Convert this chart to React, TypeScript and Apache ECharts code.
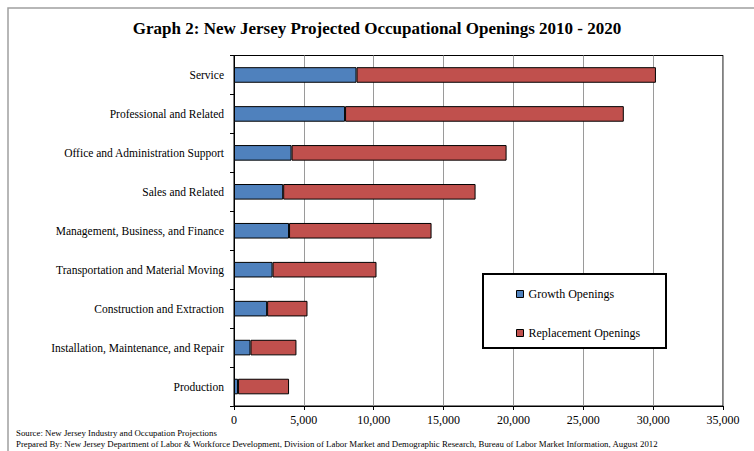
import React, { useEffect, useRef } from "react";
import * as echarts from "echarts";

const categories = [
  "Service",
  "Professional and Related",
  "Office and Administration Support",
  "Sales and Related",
  "Management, Business, and Finance",
  "Transportation and Material Moving",
  "Construction and Extraction",
  "Installation, Maintenance, and Repair",
  "Production",
];
const growthOpenings = [8770, 7950, 4120, 3520, 3940, 2760, 2370, 1180, 290];
const replacementOpenings = [21430, 19950, 15390, 13770, 10200, 7440, 2890, 3290, 3650];
const seriesNames = ["Growth Openings", "Replacement Openings"];
const titleText = "Graph 2: New Jersey Projected Occupational Openings 2010 - 2020";
const sourceText = "Source: New Jersey Industry and Occupation Projections";
const preparedText =
  "Prepared By: New Jersey Department of Labor & Workforce Development, Division of Labor Market and Demographic Research, Bureau of Labor Market Information, August 2012";

const FONT = "'Liberation Serif', 'Times New Roman', serif";

export default function App() {
  const ref = useRef<HTMLDivElement>(null);
  useEffect(() => {
    if (!ref.current) return;
    const chart = echarts.init(ref.current, null, { renderer: "svg" });
    chart.setOption({
      animation: false,
      backgroundColor: "#fff",
      textStyle: { fontFamily: FONT },
      title: {
        text: titleText,
        left: "center",
        top: 15,
        textStyle: { fontFamily: FONT, fontSize: 17, fontWeight: "bold", color: "#000" },
      },
      grid: {
        left: 234,
        top: 55.5,
        right: 31,
        bottom: 45,
        show: true,
        borderColor: "#000",
        borderWidth: 1,
        backgroundColor: "transparent",
      },
      legend: {
        orient: "vertical",
        left: 516,
        top: 288,
        padding: 0,
        z: 20,
        itemWidth: 7,
        itemHeight: 7,
        itemGap: 27,
        icon: "rect",
        data: seriesNames,
        itemStyle: { borderColor: "#000", borderWidth: 1 },
        textStyle: { fontFamily: FONT, fontSize: 12, color: "#000" },
      },
      xAxis: {
        type: "value",
        min: 0,
        max: 35000,
        interval: 5000,
        axisLine: { show: true, lineStyle: { color: "#000", width: 1 } },
        axisTick: { show: true, length: 4, lineStyle: { color: "#000" } },
        splitLine: { show: true, lineStyle: { color: "#9a9a9a", width: 1 } },
        axisLabel: {
          fontFamily: FONT,
          fontSize: 12,
          color: "#000",
          margin: 8,
          formatter: (v: number) => v.toLocaleString("en-US"),
        },
      },
      yAxis: {
        type: "category",
        data: categories,
        inverse: true,
        axisLine: { show: true, lineStyle: { color: "#000", width: 1 } },
        axisTick: { show: true, length: 4, lineStyle: { color: "#000" } },
        axisLabel: { fontFamily: FONT, fontSize: 11.5, color: "#000", margin: 10 },
      },
      series: [
        {
          name: seriesNames[0],
          type: "bar",
          stack: "total",
          data: growthOpenings,
          barCategoryGap: "60%",
          itemStyle: { color: "#4F81BD", borderColor: "#000", borderWidth: 1 },
        },
        {
          name: seriesNames[1],
          type: "bar",
          stack: "total",
          data: replacementOpenings,
          barCategoryGap: "60%",
          itemStyle: { color: "#C0504D", borderColor: "#000", borderWidth: 1 },
        },
      ],
      graphic: [
        {
          type: "rect",
          shape: { x: 8, y: 8, width: 800, height: 500 },
          style: { fill: "none", stroke: "#a0a0a0", lineWidth: 1.5 },
          silent: true,
          z: -1,
        },
        {
          type: "rect",
          shape: { x: 483, y: 274, width: 183, height: 74 },
          style: { fill: "#fff", stroke: "#000", lineWidth: 2 },
          silent: true,
          z: 3,
        },
        {
          type: "text",
          x: 16,
          y: 433,
          style: { text: sourceText, font: `8.8px ${FONT}`, fill: "#000", textVerticalAlign: "middle" },
        },
        {
          type: "text",
          x: 16,
          y: 444,
          style: { text: preparedText, font: `8.8px ${FONT}`, fill: "#000", textVerticalAlign: "middle" },
        },
      ],
    });
    return () => chart.dispose();
  }, []);
  return (
    <div
      ref={ref}
      style={{ position: "fixed", left: 0, top: 0, width: 754, height: 451 }}
    />
  );
}
